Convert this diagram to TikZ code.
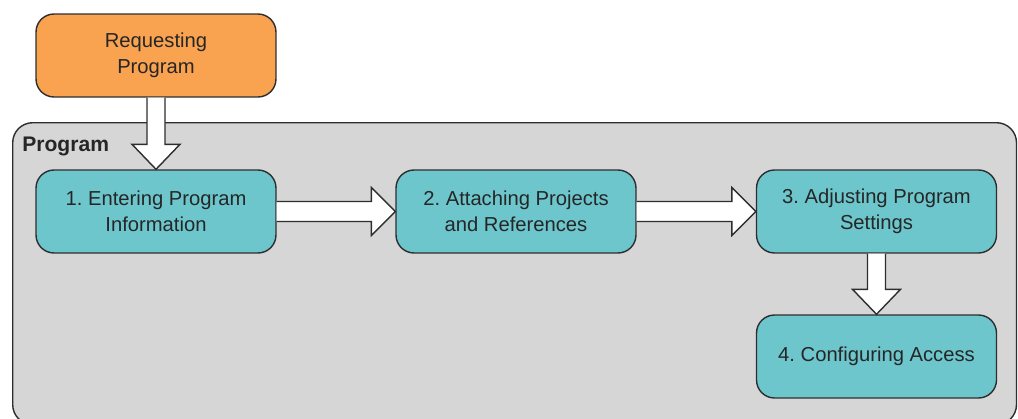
\documentclass[tikz,border=0pt]{standalone}
\usepackage{fontspec}
\setmainfont{Liberation Sans}
\usetikzlibrary{calc}
\frenchspacing
\definecolor{stepteal}{HTML}{6CC6CC}
\definecolor{reqorange}{HTML}{F9A250}
\definecolor{groupgray}{HTML}{D6D6D6}
\definecolor{edgegray}{HTML}{2E2E2E}
% fat white arrow pointing down, from bottom of #1 to top of #2
\newcommand\blockdown[2]{%
    \draw[blockarrow] ($(#1.south)+(-9,0)$) -- ($(#2.north)+(-9,-25)$) -- ($(#2.north)+(-24,-25)$)
        -- (#2.north) -- ($(#2.north)+(24,-25)$) -- ($(#2.north)+(9,-25)$) -- ($(#1.south)+(9,0)$);%
}
% same, pointing right
\newcommand\blockright[2]{%
    \draw[blockarrow] ($(#1.east)+(0,-10)$) -- ($(#2.west)+(-24,-10)$) -- ($(#2.west)+(-24,-24)$)
        -- (#2.west) -- ($(#2.west)+(-24,24)$) -- ($(#2.west)+(-24,10)$) -- ($(#1.east)+(0,10)$);%
}

\begin{document}
\begin{tikzpicture}[x=0.02cm, y=-0.02cm,
every node/.style={font=\fontsize{11.5}{14.5}\selectfont, text=black!85},
stepbox/.style={draw=edgegray, line width=0.8pt, rounded corners=0.36cm, fill=stepteal,
    minimum width=4.8cm, minimum height=1.66cm, align=center, inner sep=0pt},
reqbox/.style={stepbox, fill=reqorange},
groupbox/.style={draw=edgegray, line width=0.8pt, rounded corners=0.4cm, fill=groupgray,
    minimum width=20.08cm, minimum height=6.04cm, anchor=north west, inner sep=0pt},
blockarrow/.style={draw=edgegray, line width=0.8pt, fill=white, line join=miter}]
\useasboundingbox (0,0) rectangle (1018,419);

%group frame with its title
\node[groupbox] (prog) at (12,122) {};
\node[anchor=base west, font=\fontsize{12}{14}\selectfont\bfseries, inner sep=0pt] (progtitle) at (22,151) {Program};

%the steps
\node[reqbox] (req) at (156,55.5) {Requesting\\Program};
\node[stepbox] (s1) at (156,211.5) {1. Entering Program\\Information};
\node[stepbox] (s2) at (516,211.5) {2. Attaching Projects\\and References};
\node[stepbox] (s3) at (876.5,211.5) {3. Adjusting Program\\Settings};
\node[stepbox] (s4) at (876.5,356.5) {4. Configuring Access};

%arrows between them
\blockdown{req}{s1}
\blockright{s1}{s2}
\blockright{s2}{s3}
\blockdown{s3}{s4}
\end{tikzpicture}
\end{document}
